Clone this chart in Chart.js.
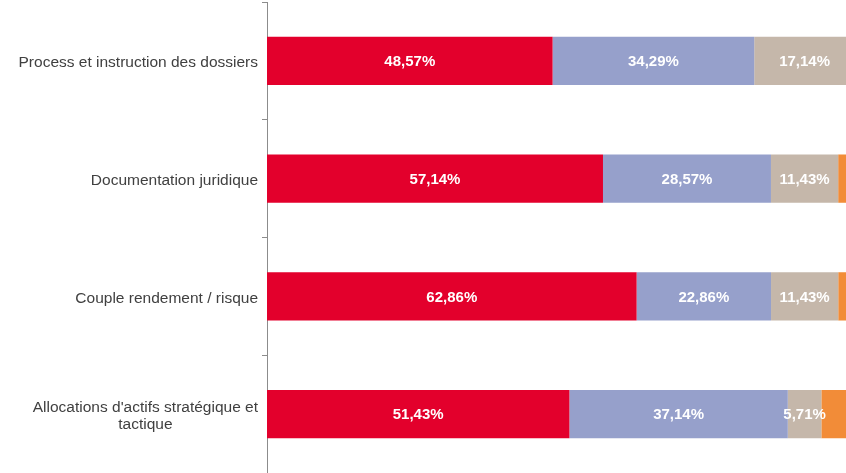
<!DOCTYPE html>
<html>
<head>
<meta charset="utf-8">
<script src="https://cdn.jsdelivr.net/npm/chart.js@4"></script>
<style>
  html, body { margin: 0; padding: 0; background: #ffffff; overflow: hidden; }
  #wrap { width: 846px; height: 473px; position: relative; }
</style>
</head>
<body>
<div id="wrap"><canvas id="chart"></canvas></div>
<script>
// Categories (top to bottom) and the four answer shares, in %
const categories = [
  ["Process et instruction des dossiers"],
  ["Documentation juridique"],
  ["Couple rendement / risque"],
  ["Allocations d'actifs stratégique et", "tactique"]
];
const seriesRed    = [48.57, 57.14, 62.86, 51.43];
const seriesBlue   = [34.29, 28.57, 22.86, 37.14];
const seriesBeige  = [17.14, 11.43, 11.43, 5.71];
const seriesOrange = [0, 2.86, 2.86, 5.71];

const colors = ["#E3002C", "#96A0CB", "#C5B7AA", "#F28C38"];
const showLabel = [true, true, true, false];

function fmt(v) {
  return v.toFixed(2).replace(".", ",") + "%";
}

// Draw the value labels inside the bar segments
const valueLabels = {
  id: "valueLabels",
  afterDatasetsDraw(chart) {
    const ctx = chart.ctx;
    ctx.save();
    ctx.font = "bold 15px 'Liberation Sans', Arial, sans-serif";
    ctx.fillStyle = "#ffffff";
    ctx.textAlign = "center";
    ctx.textBaseline = "middle";
    chart.data.datasets.forEach((ds, i) => {
      if (!showLabel[i]) return;
      chart.getDatasetMeta(i).data.forEach((bar, j) => {
        const v = ds.data[j];
        if (!v) return;
        const p = bar.getCenterPoint();
        ctx.fillText(fmt(v), p.x, p.y + 1);
      });
    });
    ctx.restore();
  }
};

// Category labels: right-aligned block, wrapped lines centred within it
const categoryLabels = {
  id: "categoryLabels",
  afterDraw(chart) {
    const ctx = chart.ctx;
    const y = chart.scales.y;
    const right = y.left - 4;
    const lh = 17;
    ctx.save();
    ctx.font = "15.5px 'Liberation Sans', Arial, sans-serif";
    ctx.fillStyle = "#404040";
    ctx.textAlign = "center";
    ctx.textBaseline = "middle";
    categories.forEach((lines, i) => {
      const cy = y.getPixelForValue(i) + 2;
      const w = Math.max(...lines.map(l => ctx.measureText(l).width));
      const cx = right - w / 2;
      lines.forEach((l, k) => {
        ctx.fillText(l, cx, cy + (k - (lines.length - 1) / 2) * lh);
      });
    });
    ctx.restore();
  }
};

new Chart(document.getElementById("chart"), {
  type: "bar",
  data: {
    labels: categories.map(c => c.join(" ")),
    datasets: [seriesRed, seriesBlue, seriesBeige, seriesOrange].map((d, i) => ({
      data: d,
      backgroundColor: colors[i],
      borderWidth: 0,
      categoryPercentage: 1,
      barPercentage: 0.41
    }))
  },
  options: {
    indexAxis: "y",
    responsive: true,
    maintainAspectRatio: false,
    animation: false,
    layout: { padding: { left: 262, top: 2, right: 0, bottom: 0 } },
    plugins: {
      legend: { display: false },
      tooltip: { enabled: false }
    },
    scales: {
      x: {
        display: false,
        stacked: true,
        min: 0,
        max: 98.47
      },
      y: {
        stacked: true,
        offset: true,
        border: { display: true, color: "#8c8c8c", width: 1 },
        grid: {
          offset: true,
          drawOnChartArea: false,
          drawTicks: true,
          tickLength: 5,
          color: "#8c8c8c"
        },
        ticks: { display: false }
      }
    }
  },
  plugins: [valueLabels, categoryLabels]
});
</script>
</body>
</html>
